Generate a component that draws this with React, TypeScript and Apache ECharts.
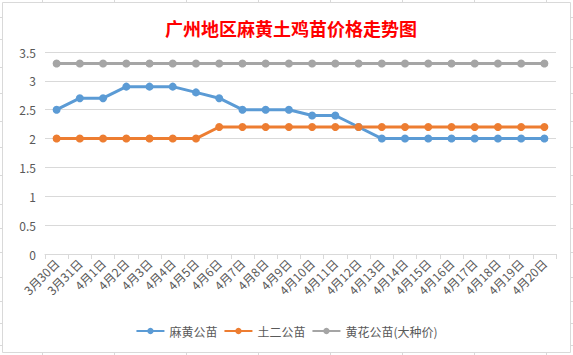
import React, { useEffect, useRef } from "react";
import * as echarts from "echarts";

const categories = [
  "3月30日", "3月31日", "4月1日", "4月2日", "4月3日", "4月4日", "4月5日", "4月6日",
  "4月7日", "4月8日", "4月9日", "4月10日", "4月11日", "4月12日", "4月13日", "4月14日",
  "4月15日", "4月16日", "4月17日", "4月18日", "4月19日", "4月20日",
];
const mahuang = [2.5, 2.7, 2.7, 2.9, 2.9, 2.9, 2.8, 2.7, 2.5, 2.5, 2.5, 2.4, 2.4, 2.2, 2.0, 2.0, 2.0, 2.0, 2.0, 2.0, 2.0, 2.0];
const tuer = [2.0, 2.0, 2.0, 2.0, 2.0, 2.0, 2.0, 2.2, 2.2, 2.2, 2.2, 2.2, 2.2, 2.2, 2.2, 2.2, 2.2, 2.2, 2.2, 2.2, 2.2, 2.2];
const huanghua = [3.3, 3.3, 3.3, 3.3, 3.3, 3.3, 3.3, 3.3, 3.3, 3.3, 3.3, 3.3, 3.3, 3.3, 3.3, 3.3, 3.3, 3.3, 3.3, 3.3, 3.3, 3.3];
const seriesNames = ["麻黄公苗", "土二公苗", "黄花公苗(大种价)"];
const title = "广州地区麻黄土鸡苗价格走势图";

const colStubs = [42, 114, 186, 258, 330, 402, 474, 546];
const rowStubs = [17, 39, 67, 93, 121, 147, 175, 204, 228, 252, 277, 301, 323, 345];

export default function App() {
  const ref = useRef<HTMLDivElement>(null);
  useEffect(() => {
    if (!ref.current) return;
    const chart = echarts.init(ref.current, null, { renderer: "svg" });
    const font = "'Noto Sans CJK SC', 'Noto Sans', sans-serif";
    const stubStyle = { stroke: "#d9d9d9", lineWidth: 1 };
    const graphics: any[] = [
      {
        type: "rect",
        shape: { x: 2.5, y: 2.5, width: 568, height: 350 },
        style: { fill: "none", stroke: "#d9d9d9", lineWidth: 1 },
        z: -1,
      },
    ];
    colStubs.forEach((x) => {
      graphics.push({ type: "line", shape: { x1: x + 0.5, y1: 0, x2: x + 0.5, y2: 2 }, style: stubStyle });
      graphics.push({ type: "line", shape: { x1: x + 0.5, y1: 353, x2: x + 0.5, y2: 355 }, style: stubStyle });
    });
    rowStubs.forEach((y) => {
      graphics.push({ type: "line", shape: { x1: 0, y1: y + 0.5, x2: 2, y2: y + 0.5 }, style: stubStyle });
      graphics.push({ type: "line", shape: { x1: 571, y1: y + 0.5, x2: 573, y2: y + 0.5 }, style: stubStyle });
    });
    const mk = (name: string, data: number[], color: string) => ({
      name,
      type: "line",
      data,
      symbol: "circle",
      symbolSize: 8,
      lineStyle: { width: 3, color },
      itemStyle: { color },
    });
    chart.setOption({
      animation: false,
      backgroundColor: "#ffffff",
      title: {
        text: title,
        left: 286,
        textAlign: "center",
        top: 14,
        textStyle: { color: "#ff0000", fontSize: 18, fontWeight: "bold", fontFamily: font },
      },
      legend: {
        bottom: 13,
        left: "center",
        itemWidth: 28,
        itemHeight: 8,
        itemGap: 6,
        textStyle: { color: "#595959", fontSize: 12, fontFamily: font },
        data: seriesNames,
      },
      grid: { left: 45, right: 17, top: 52, bottom: 101 },
      xAxis: {
        type: "category",
        data: categories,
        boundaryGap: true,
        axisLine: { lineStyle: { color: "#d9d9d9" } },
        axisTick: { show: true, length: 5, lineStyle: { color: "#d9d9d9" } },
        axisLabel: { rotate: 45, interval: 0, fontSize: 12, color: "#595959", fontFamily: font, margin: 7 },
      },
      yAxis: {
        type: "value",
        min: 0,
        max: 3.5,
        interval: 0.5,
        axisLine: { show: false },
        axisTick: { show: false },
        splitLine: { lineStyle: { color: "#d9d9d9" } },
        axisLabel: { fontSize: 12, color: "#595959", fontFamily: font, margin: 9 },
      },
      series: [
        mk(seriesNames[0], mahuang, "#5b9bd5"),
        mk(seriesNames[1], tuer, "#ed7d31"),
        mk(seriesNames[2], huanghua, "#a5a5a5"),
      ],
      graphic: graphics,
    });
    return () => chart.dispose();
  }, []);
  return <div ref={ref} style={{ width: 573, height: 355, position: "absolute", left: 0, top: 0 }} />;
}
